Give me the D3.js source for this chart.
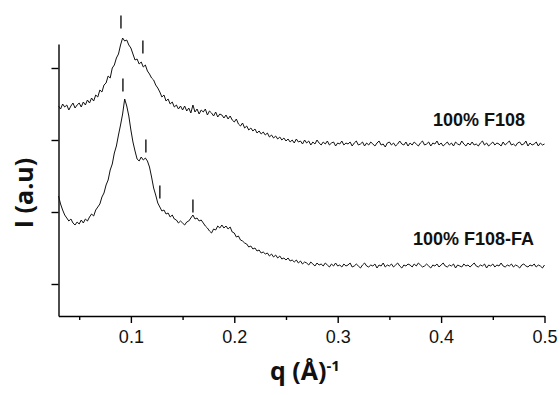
<!DOCTYPE html>
<html>
<head>
<meta charset="utf-8">
<script src="https://cdn.jsdelivr.net/npm/d3@7"></script>
<style>
  html, body { margin: 0; padding: 0; background: #fff; }
  svg { display: block; }
</style>
</head>
<body>
<svg id="chart" width="560" height="395"></svg>
<script>
const Q_START = 0.03;
const Q_STEP = 0.002;

const f108 = [
  210,207,212,209,211,206,210,213,208,211,
  213,209,214,211,216,213,218,215,221,219,
  226,224,231,233,240,238,248,251,258,262,
  271,278,275,276,271,268,262,256,257,252,
  254,249,251,245,242,238,236,231,228,224,
  219,221,215,217,212,214,209,211,207,210,
  206,210,205,208,203,211,204,207,202,206,
  204,207,201,205,203,200,204,199,202,201,
  198,201,197,200,196,194,197,192,190,193,
  188,190,186,188,185,187,183,185,182,184,
  181,183,179,181,178,180,177,179,176,178,
  175,177,174,176,173,177,174,175,172,176,
  173,175,171,174,172,176,173,171,174,172,
  175,171,173,174,170,173,172,175,171,173,
  172,174,170,173,175,171,172,174,170,173,
  171,174,172,170,173,175,171,172,169,173,
  174,171,173,170,172,175,172,171,174,170,
  173,171,174,172,170,173,175,171,172,174,
  170,173,172,175,171,173,170,172,174,171,
  173,170,174,172,171,175,172,170,173,171,
  174,171,172,170,173,175,171,173,170,172,
  174,171,173,172,170,174,171,173,175,171,
  172,170,173,174,171,172,175,170,173,171,
  172,174,170,173,171,172
];

const f108fa = [
  120,112,106,101,98,95,97,93,91,94,
  92,96,93,97,95,99,102,100,106,109,
  112,119,123,131,136,146,152,163,170,181,
  191,202,217,210,200,186,174,165,157,155,
  159,156,158,155,149,139,128,121,113,109,
  105,106,102,103,99,101,97,96,93,95,
  93,91,94,95,98,101,97,98,95,96,
  93,90,88,85,83,87,86,90,88,91,
  88,90,87,89,84,83,79,80,76,75,
  73,72,69,70,67,68,65,66,63,64,
  62,63,60,62,59,61,58,60,57,58,
  56,58,55,56,54,56,53,55,52,54,
  53,51,54,52,50,53,51,52,50,53,
  51,49,52,50,53,50,51,49,52,50,
  51,53,49,50,52,50,48,51,53,50,
  49,51,50,52,48,51,50,53,49,51,
  50,52,49,51,53,50,48,51,50,52,
  51,49,52,50,53,51,49,50,52,50,
  48,51,50,52,49,51,53,50,49,51,
  50,52,48,51,50,49,52,50,51,49,
  51,53,50,49,51,50,52,48,51,50,
  52,49,51,50,53,50,49,51,50,52,
  49,51,50,48,51,52,50,49,51,50,
  52,49,51,50,48,51
];

// peak markers: [q, intensity]
const f108Peaks = [[0.0904, 294], [0.1116, 269]];
const f108faPeaks = [[0.0923, 231], [0.1145, 170], [0.128, 124], [0.160, 110]];

const xMajor = [0.1, 0.2, 0.3, 0.4, 0.5];
const xMinor = [0.05, 0.15, 0.25, 0.35, 0.45];
const yTicks = [32, 104, 176, 248];

const labels = ["100% F108", "100% F108-FA"];

// ── Scales ───────────────────────────────────────────────
const svg = d3.select("#chart");
const x = d3.scaleLinear().domain([0.03, 0.5]).range([58.5, 544.5]);
const y = d3.scaleLinear().domain([0, 272]).range([316, 44]);

const toPoints = (vals) => vals.map((v, i) => [Q_START + i * Q_STEP, v]);

// ── Axes ─────────────────────────────────────────────────
const xAxis = svg.append("g")
  .attr("transform", "translate(0,316)")
  .call(d3.axisBottom(x).tickValues(xMajor).tickFormat(d3.format(".1f"))
    .tickSize(7).tickSizeOuter(0).tickPadding(7));

svg.append("g")
  .attr("transform", "translate(0,316)")
  .call(d3.axisBottom(x).tickValues(xMinor).tickFormat("").tickSize(4))
  .call(g => g.select(".domain").remove());

svg.append("g")
  .attr("transform", "translate(58.5,0)")
  .call(d3.axisLeft(y).tickValues(yTicks).tickFormat("").tickSize(7).tickSizeOuter(0));

svg.selectAll(".domain, .tick line").attr("stroke", "#000").attr("stroke-width", 1.4);
xAxis.selectAll("text")
  .attr("fill", "#111")
  .style("font-family", "'Liberation Sans', Arial, sans-serif")
  .style("font-size", "18px");

// ── Curves ───────────────────────────────────────────────
const line = d3.line().x(d => x(d[0])).y(d => y(d[1]));

[f108, f108fa].forEach(series => {
  svg.append("path")
    .datum(toPoints(series))
    .attr("fill", "none")
    .attr("stroke", "#111")
    .attr("stroke-width", 1)
    .attr("stroke-linejoin", "round")
    .attr("d", line);
});

// peak markers
svg.append("g")
  .selectAll("line")
  .data(f108Peaks.concat(f108faPeaks))
  .enter().append("line")
  .attr("x1", d => x(d[0])).attr("x2", d => x(d[0]))
  .attr("y1", d => y(d[1]) - 6.5).attr("y2", d => y(d[1]) + 6.5)
  .attr("stroke", "#222")
  .attr("stroke-width", 1.5);

// ── Text ─────────────────────────────────────────────────
const labelFont = "'Liberation Sans', Arial, sans-serif";
svg.append("text")
  .attr("x", 433).attr("y", 126)
  .style("font-family", labelFont).style("font-size", "18px").style("font-weight", "bold")
  .attr("fill", "#111")
  .text(labels[0]);

svg.append("text")
  .attr("x", 413).attr("y", 245)
  .style("font-family", labelFont).style("font-size", "18px").style("font-weight", "bold")
  .attr("fill", "#111")
  .text(labels[1]);

const titleFont = "'Open Sans', 'DejaVu Sans', sans-serif";
const xTitle = svg.append("text")
  .attr("x", 270).attr("y", 380)
  .style("font-family", titleFont).style("font-size", "25px").style("font-weight", "bold")
  .attr("fill", "#111");
xTitle.append("tspan").text("q (Å)");
xTitle.append("tspan").attr("dy", -9).style("font-size", "15px").text("-1");

svg.append("text")
  .attr("transform", "translate(33,193) rotate(-90)")
  .attr("text-anchor", "middle")
  .style("font-family", titleFont).style("font-size", "25px").style("font-weight", "bold")
  .attr("fill", "#111")
  .text("I (a.u)");
</script>
</body>
</html>
